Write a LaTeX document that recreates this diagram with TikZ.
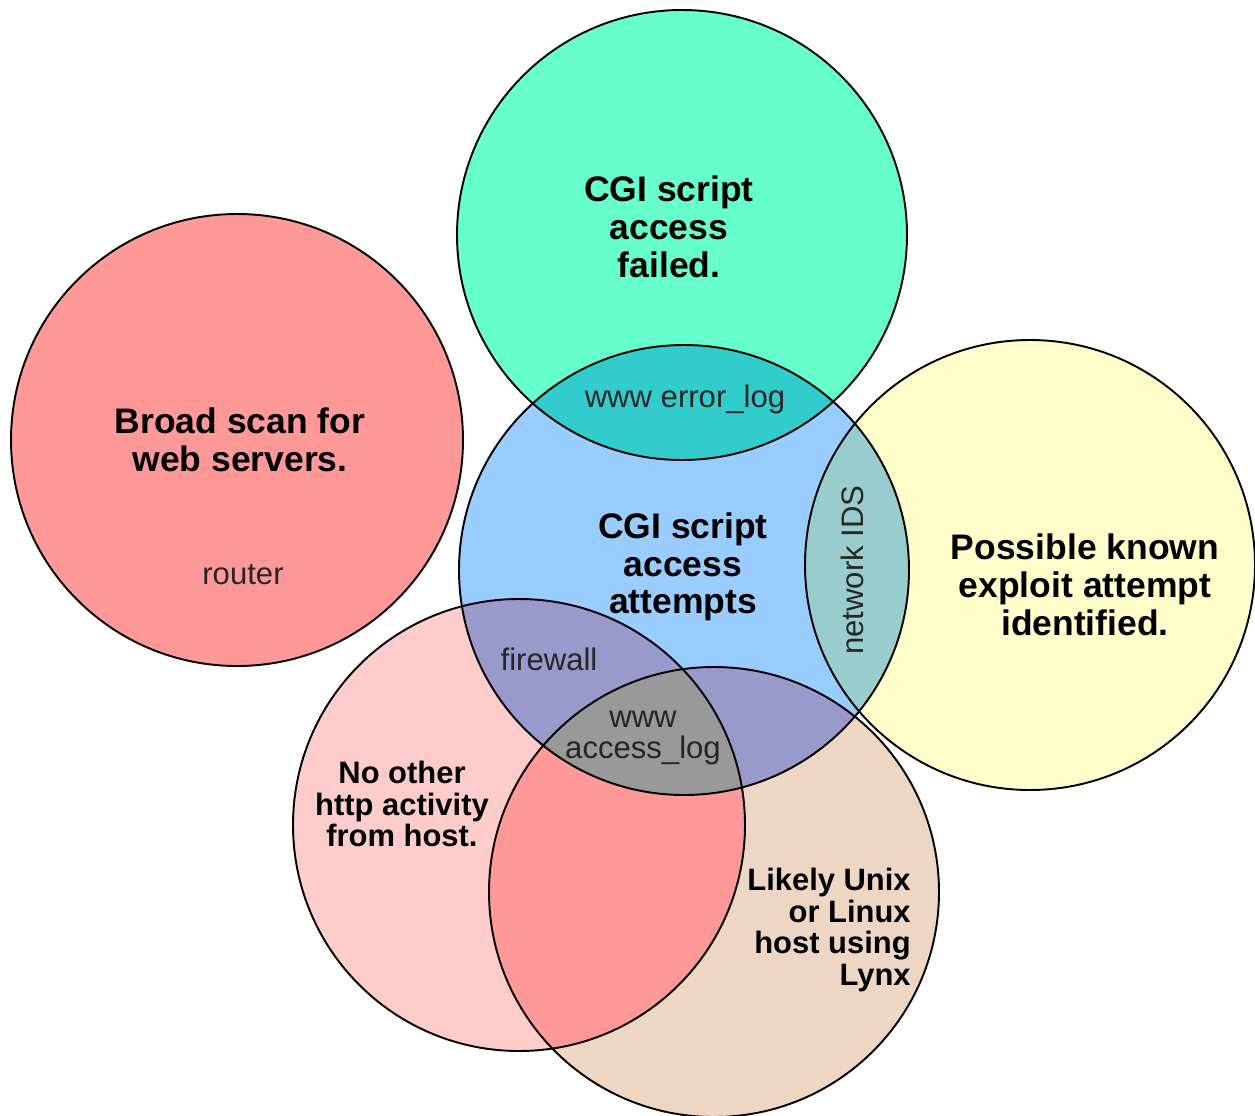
\documentclass[tikz,border=0pt]{standalone}
\usepackage{fontspec}
\setmainfont{Liberation Sans}
\definecolor{cred}{HTML}{FF9999}
\definecolor{cgreen}{HTML}{66FFCC}
\definecolor{cblue}{HTML}{99CCFF}
\definecolor{cyellow}{HTML}{FFFFCC}
\definecolor{cpink}{HTML}{FFCCCC}
\definecolor{ctan}{HTML}{EED6C4}
\definecolor{cteal}{HTML}{33CCCC}
\definecolor{cbluey}{HTML}{99CCCC}
\definecolor{cpurple}{HTML}{9999CC}
\definecolor{cgray}{HTML}{999999}
\begin{document}
\begin{tikzpicture}[x=0.02cm,y=-0.02cm,
  ring/.style={draw=black,line width=1.1pt},
  bigtxt/.style={font=\bfseries\fontsize{20.2}{21.5}\selectfont,align=center,inner sep=0pt},
  midtxt/.style={font=\bfseries\fontsize{17.6}{18.1}\selectfont,inner sep=0pt},
  logtxt/.style={font=\fontsize{17.7}{18.1}\selectfont,align=center,inner sep=0pt,text=black!85}]
\fill[white] (0,0) rectangle (1255,1116);
\useasboundingbox (0,0) rectangle (1255,1116);
% circle centres
\coordinate (cR) at (237,440);
\coordinate (cG) at (682,235);
\coordinate (cB) at (684,570);
\coordinate (cY) at (1030,565);
\coordinate (cP) at (519,825);
\coordinate (cT) at (714,892);
\def\rr{225}
% base fills
\fill[cred] (cR) circle[radius=226];
\fill[cgreen] (cG) circle[radius=\rr];
\fill[cblue] (cB) circle[radius=\rr];
\fill[cyellow] (cY) circle[radius=\rr];
\fill[cpink] (cP) circle[radius=226];
\fill[ctan] (cT) circle[radius=\rr];
% intersections
\begin{scope}
  \clip (cG) circle[radius=\rr];
  \fill[cteal] (cB) circle[radius=\rr];
\end{scope}
\begin{scope}
  \clip (cY) circle[radius=\rr];
  \fill[cbluey] (cB) circle[radius=\rr];
\end{scope}
\begin{scope}
  \clip (cP) circle[radius=226];
  \fill[cred] (cT) circle[radius=\rr];
\end{scope}
\begin{scope}
  \clip (cB) circle[radius=\rr];
  \fill[cpurple] (cP) circle[radius=226];
  \fill[cpurple] (cT) circle[radius=\rr];
  \clip (cP) circle[radius=226];
  \fill[cgray] (cT) circle[radius=\rr];
\end{scope}
% outlines
\draw[ring] (cR) circle[radius=226];
\draw[ring] (cG) circle[radius=\rr];
\draw[ring] (cB) circle[radius=\rr];
\draw[ring] (cY) circle[radius=\rr];
\draw[ring] (cP) circle[radius=226];
\draw[ring] (cT) circle[radius=\rr];
% labels
\node[bigtxt] (tfail) at (669,227) {CGI script\\access\\failed.};
\node[bigtxt] (tscan) at (240,440) {Broad scan for\\web servers.};
\node[logtxt] (trouter) at (243,575) {router};
\node[logtxt] (terr) at (685,399) {www error\_log};
\node[bigtxt] (tatt) at (683,567) {CGI script\\access\\attempts};
\node[logtxt,rotate=90] (tids) at (852,570) {network IDS};
\node[bigtxt] (texp) at (1085,585) {Possible known\\exploit attempt\\identified.};
\node[logtxt] (tfw) at (549,659) {firewall};
\node[logtxt,font=\fontsize{17.7}{18.2}\selectfont] (tacc) at (643,738) {www\\access\_log};
\node[midtxt,align=center] (thttp) at (402,804) {No other\\http activity\\from host.};
\node[midtxt,align=right,anchor=east] (tunix) at (911,930) {Likely Unix\\or Linux\hspace*{4pt}\\host using\\Lynx};
\end{tikzpicture}
\end{document}
